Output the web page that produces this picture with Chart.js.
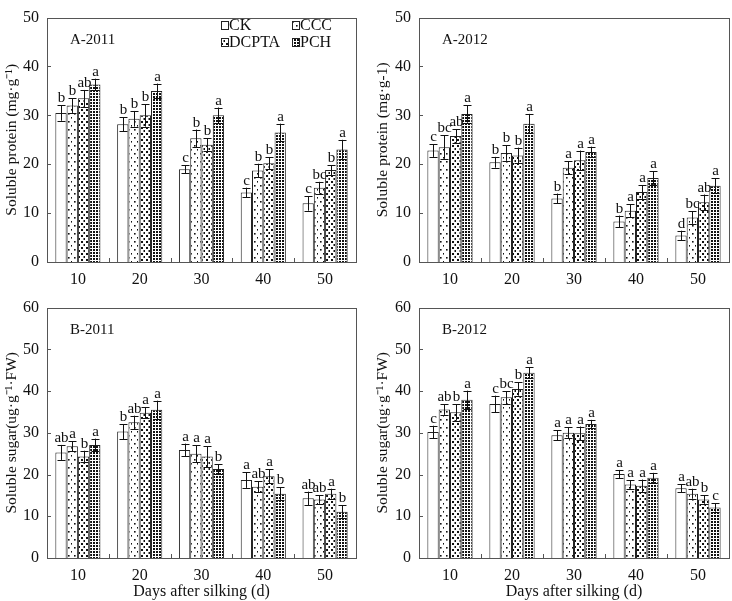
<!DOCTYPE html>
<html>
<head>
<meta charset="utf-8">
<script src="https://cdn.jsdelivr.net/npm/chart.js@4.4.1/dist/chart.umd.min.js"></script>
<style>
  body { margin: 0; background: #fff; width: 732px; height: 601px; position: relative; overflow: hidden; }
  canvas { position: absolute; }
</style>
</head>
<body>
<canvas id="c1" width="366" height="290" style="left:0;top:0"></canvas>
<canvas id="c2" width="366" height="290" style="left:366px;top:0"></canvas>
<canvas id="c3" width="366" height="311" style="left:0;top:290px"></canvas>
<canvas id="c4" width="366" height="311" style="left:366px;top:290px"></canvas>
<script>
const days = ["10", "20", "30", "40", "50"];
const treatments = ["CK", "CCC", "DCPTA", "PCH"];

// rows = CK, CCC, DCPTA, PCH ; columns = days
const prot2011 = [
  [30.5, 28.2, 19.0, 14.2, 12.0],
  [32.0, 29.3, 25.3, 18.7, 15.2],
  [33.5, 30.0, 24.0, 20.2, 18.8],
  [36.3, 35.0, 30.0, 26.5, 23.0]
];
const prot2011Err = [
  [1.6, 1.4, 0.8, 1.0, 1.5],
  [1.5, 1.6, 1.8, 1.4, 1.2],
  [1.7, 2.3, 1.3, 1.2, 1.0],
  [1.2, 1.5, 1.6, 1.8, 2.0]
];
const prot2011Sig = [
  ["b", "b", "c", "c", "c"],
  ["b", "b", "b", "b", "bc"],
  ["ab", "b", "b", "b", "b"],
  ["a", "a", "a", "a", "a"]
];

const prot2012 = [
  [22.8, 20.4, 13.0, 8.3, 5.4],
  [23.5, 22.3, 19.3, 10.5, 9.1],
  [25.8, 21.8, 20.8, 14.3, 12.2],
  [30.3, 28.3, 22.5, 17.2, 15.6]
];
const prot2012Err = [
  [1.3, 1.1, 1.0, 1.2, 1.0],
  [2.4, 1.6, 1.3, 1.3, 1.3],
  [1.4, 1.6, 2.0, 1.4, 1.6],
  [1.8, 2.0, 1.1, 1.4, 1.5]
];
const prot2012Sig = [
  ["c", "b", "b", "b", "d"],
  ["bc", "b", "a", "a", "bc"],
  ["ab", "b", "a", "a", "ab"],
  ["a", "a", "a", "a", "a"]
];

const sugar2011 = [
  [25.3, 30.3, 25.9, 18.7, 14.3],
  [26.8, 32.5, 25.0, 17.1, 14.0],
  [24.3, 34.8, 24.3, 19.6, 15.4],
  [27.1, 35.5, 21.3, 15.4, 11.1]
];
const sugar2011Err = [
  [1.8, 1.8, 1.5, 1.9, 1.6],
  [1.2, 1.6, 2.0, 1.3, 1.0],
  [1.4, 1.3, 2.5, 1.7, 1.2],
  [1.5, 2.2, 1.2, 1.6, 1.5]
];
const sugar2011Sig = [
  ["ab", "b", "a", "a", "ab"],
  ["a", "ab", "a", "ab", "ab"],
  ["b", "a", "a", "a", "a"],
  ["a", "a", "b", "b", "b"]
];

const sugar2012 = [
  [30.2, 36.9, 29.4, 20.1, 16.7],
  [35.6, 38.5, 30.0, 17.6, 15.4],
  [34.9, 40.5, 29.9, 17.3, 14.0],
  [37.9, 44.4, 32.1, 19.2, 12.1]
];
const sugar2012Err = [
  [1.5, 2.0, 1.2, 1.0, 1.0],
  [1.3, 1.5, 1.3, 1.0, 1.2],
  [2.0, 1.6, 1.6, 1.5, 1.0],
  [2.2, 1.3, 1.0, 1.2, 1.0]
];
const sugar2012Sig = [
  ["c", "c", "a", "a", "a"],
  ["ab", "bc", "a", "a", "ab"],
  ["b", "b", "a", "a", "b"],
  ["a", "a", "a", "a", "c"]
];

const serif = "'Liberation Serif', 'Times New Roman', serif";

function dotPattern(w, h, dots, size) {
  let c = document.createElement("canvas");
  c.width = w;
  c.height = h;
  let g = c.getContext("2d");
  g.fillStyle = "#fff";
  g.fillRect(0, 0, w, h);
  g.fillStyle = "#111";
  dots.forEach(d => g.fillRect(d[0], d[1], size, size));
  return g.createPattern(c, "repeat");
}

const fills = [
  "#ffffff",
  dotPattern(6, 8, [[2, 1], [5, 5]], 1.6),
  dotPattern(5, 6, [[1, 1], [3.5, 4]], 2),
  dotPattern(3, 3, [[0, 0]], 2)
];

function makeChart(id, cfg) {
  let extras = {
    id: "extras" + id,
    afterDatasetsDraw(chart) {
      let ctx = chart.ctx;
      let y = chart.scales.y;
      let x = chart.scales.x;
      let area = chart.chartArea;
      ctx.save();
      // error bars and letters
      ctx.strokeStyle = "#111";
      ctx.lineWidth = 1;
      ctx.fillStyle = "#111";
      ctx.font = "15px " + serif;
      ctx.textAlign = "center";
      ctx.textBaseline = "alphabetic";
      cfg.values.forEach((row, d) => {
        let meta = chart.getDatasetMeta(d);
        row.forEach((v, i) => {
          let bx = Math.round(meta.data[i].x) + 0.5;
          let top = y.getPixelForValue(v + cfg.errs[d][i]);
          let bot = y.getPixelForValue(v - cfg.errs[d][i]);
          ctx.beginPath();
          ctx.moveTo(bx, top);
          ctx.lineTo(bx, bot);
          ctx.moveTo(bx - 4, Math.round(top) + 0.5);
          ctx.lineTo(bx + 4, Math.round(top) + 0.5);
          ctx.moveTo(bx - 4, Math.round(bot) + 0.5);
          ctx.lineTo(bx + 4, Math.round(bot) + 0.5);
          ctx.stroke();
          ctx.fillText(cfg.sigs[d][i], bx, top - 3);
        });
      });
      // frame
      ctx.strokeStyle = "#555";
      ctx.strokeRect(Math.round(area.left) + 0.5, Math.round(area.top) + 0.5,
        Math.round(area.right - area.left), Math.round(area.bottom - area.top));
      // inward ticks
      ctx.beginPath();
      y.ticks.forEach((t, i) => {
        let py = Math.round(y.getPixelForTick(i)) + 0.5;
        ctx.moveTo(area.left, py);
        ctx.lineTo(area.left + 4, py);
      });
      for (let i = 0; i < days.length - 1; i++) {
        let px = Math.round((x.getPixelForTick(i) + x.getPixelForTick(i + 1)) / 2) + 0.5;
        ctx.moveTo(px, area.bottom);
        ctx.lineTo(px, area.bottom - 4);
      }
      ctx.stroke();
      // panel label
      ctx.fillStyle = "#111";
      ctx.textAlign = "left";
      ctx.font = "15px " + serif;
      ctx.fillText(cfg.label, area.left + 23, area.top + 26);
      // legend
      if (cfg.legend) {
        ctx.font = "16px " + serif;
        let spots = [[221, 30], [292, 30], [221, 47], [292, 47]];
        treatments.forEach((name, d) => {
          let s = spots[d];
          ctx.fillStyle = fills[d];
          ctx.fillRect(s[0], s[1] - 9, 7, 8);
          ctx.strokeStyle = "#222";
          ctx.strokeRect(s[0] + 0.5, s[1] - 8.5, 7, 8);
          ctx.fillStyle = "#111";
          ctx.fillText(name, s[0] + 8, s[1]);
        });
      }
      ctx.restore();
    }
  };

  new Chart(document.getElementById(id), {
    type: "bar",
    data: {
      labels: days,
      datasets: treatments.map((name, d) => ({
        label: name,
        data: cfg.values[d],
        backgroundColor: fills[d],
        borderColor: "#222",
        borderWidth: 1,
        barPercentage: 1,
        categoryPercentage: 0.73
      }))
    },
    options: {
      responsive: false,
      animation: false,
      devicePixelRatio: 1,
      layout: { padding: { top: cfg.padTop, right: cfg.padRight, left: 0, bottom: 0 } },
      plugins: { legend: { display: false }, tooltip: { enabled: false } },
      scales: {
        x: {
          grid: { display: false, drawTicks: false },
          border: { display: false },
          ticks: { color: "#111", font: { family: serif, size: 16 }, padding: 8 },
          title: {
            display: cfg.xTitle,
            text: "Days after silking (d)",
            color: "#111",
            font: { family: serif, size: 16 },
            padding: { top: 0, bottom: 0 }
          },
          afterFit(scale) { scale.height = cfg.xHeight; }
        },
        y: {
          min: 0,
          max: cfg.yMax,
          grid: { display: false, drawTicks: false },
          border: { display: false },
          ticks: { stepSize: 10, color: "#111", font: { family: serif, size: 16 }, padding: 8 },
          title: {
            display: true,
            text: cfg.yTitle,
            color: "#111",
            font: { family: serif, size: 15.5 },
            padding: { top: cfg.yTitlePad, bottom: 0 }
          },
          afterFit(scale) { scale.width = cfg.yWidth; }
        }
      }
    },
    plugins: [extras]
  });
}

makeChart("c1", {
  values: prot2011, errs: prot2011Err, sigs: prot2011Sig, label: "A-2011", legend: true,
  yMax: 50, yTitle: "Soluble protein (mg·g⁻¹)", xTitle: false,
  padTop: 6, padRight: 10, xHeight: 28, yWidth: 47, yTitlePad: 3
});
makeChart("c2", {
  values: prot2012, errs: prot2012Err, sigs: prot2012Sig, label: "A-2012", legend: false,
  yMax: 50, yTitle: "Soluble protein (mg·g-1)", xTitle: false,
  padTop: 6, padRight: 3, xHeight: 28, yWidth: 53, yTitlePad: 8
});
makeChart("c3", {
  values: sugar2011, errs: sugar2011Err, sigs: sugar2011Sig, label: "B-2011", legend: false,
  yMax: 60, yTitle: "Soluble sugar(ug·g⁻¹·FW)", xTitle: true,
  padTop: 7, padRight: 10, xHeight: 43, yWidth: 47, yTitlePad: 3
});
makeChart("c4", {
  values: sugar2012, errs: sugar2012Err, sigs: sugar2012Sig, label: "B-2012", legend: false,
  yMax: 60, yTitle: "Soluble sugar(ug·g⁻¹·FW)", xTitle: true,
  padTop: 7, padRight: 3, xHeight: 43, yWidth: 53, yTitlePad: 8
});
</script>
</body>
</html>
